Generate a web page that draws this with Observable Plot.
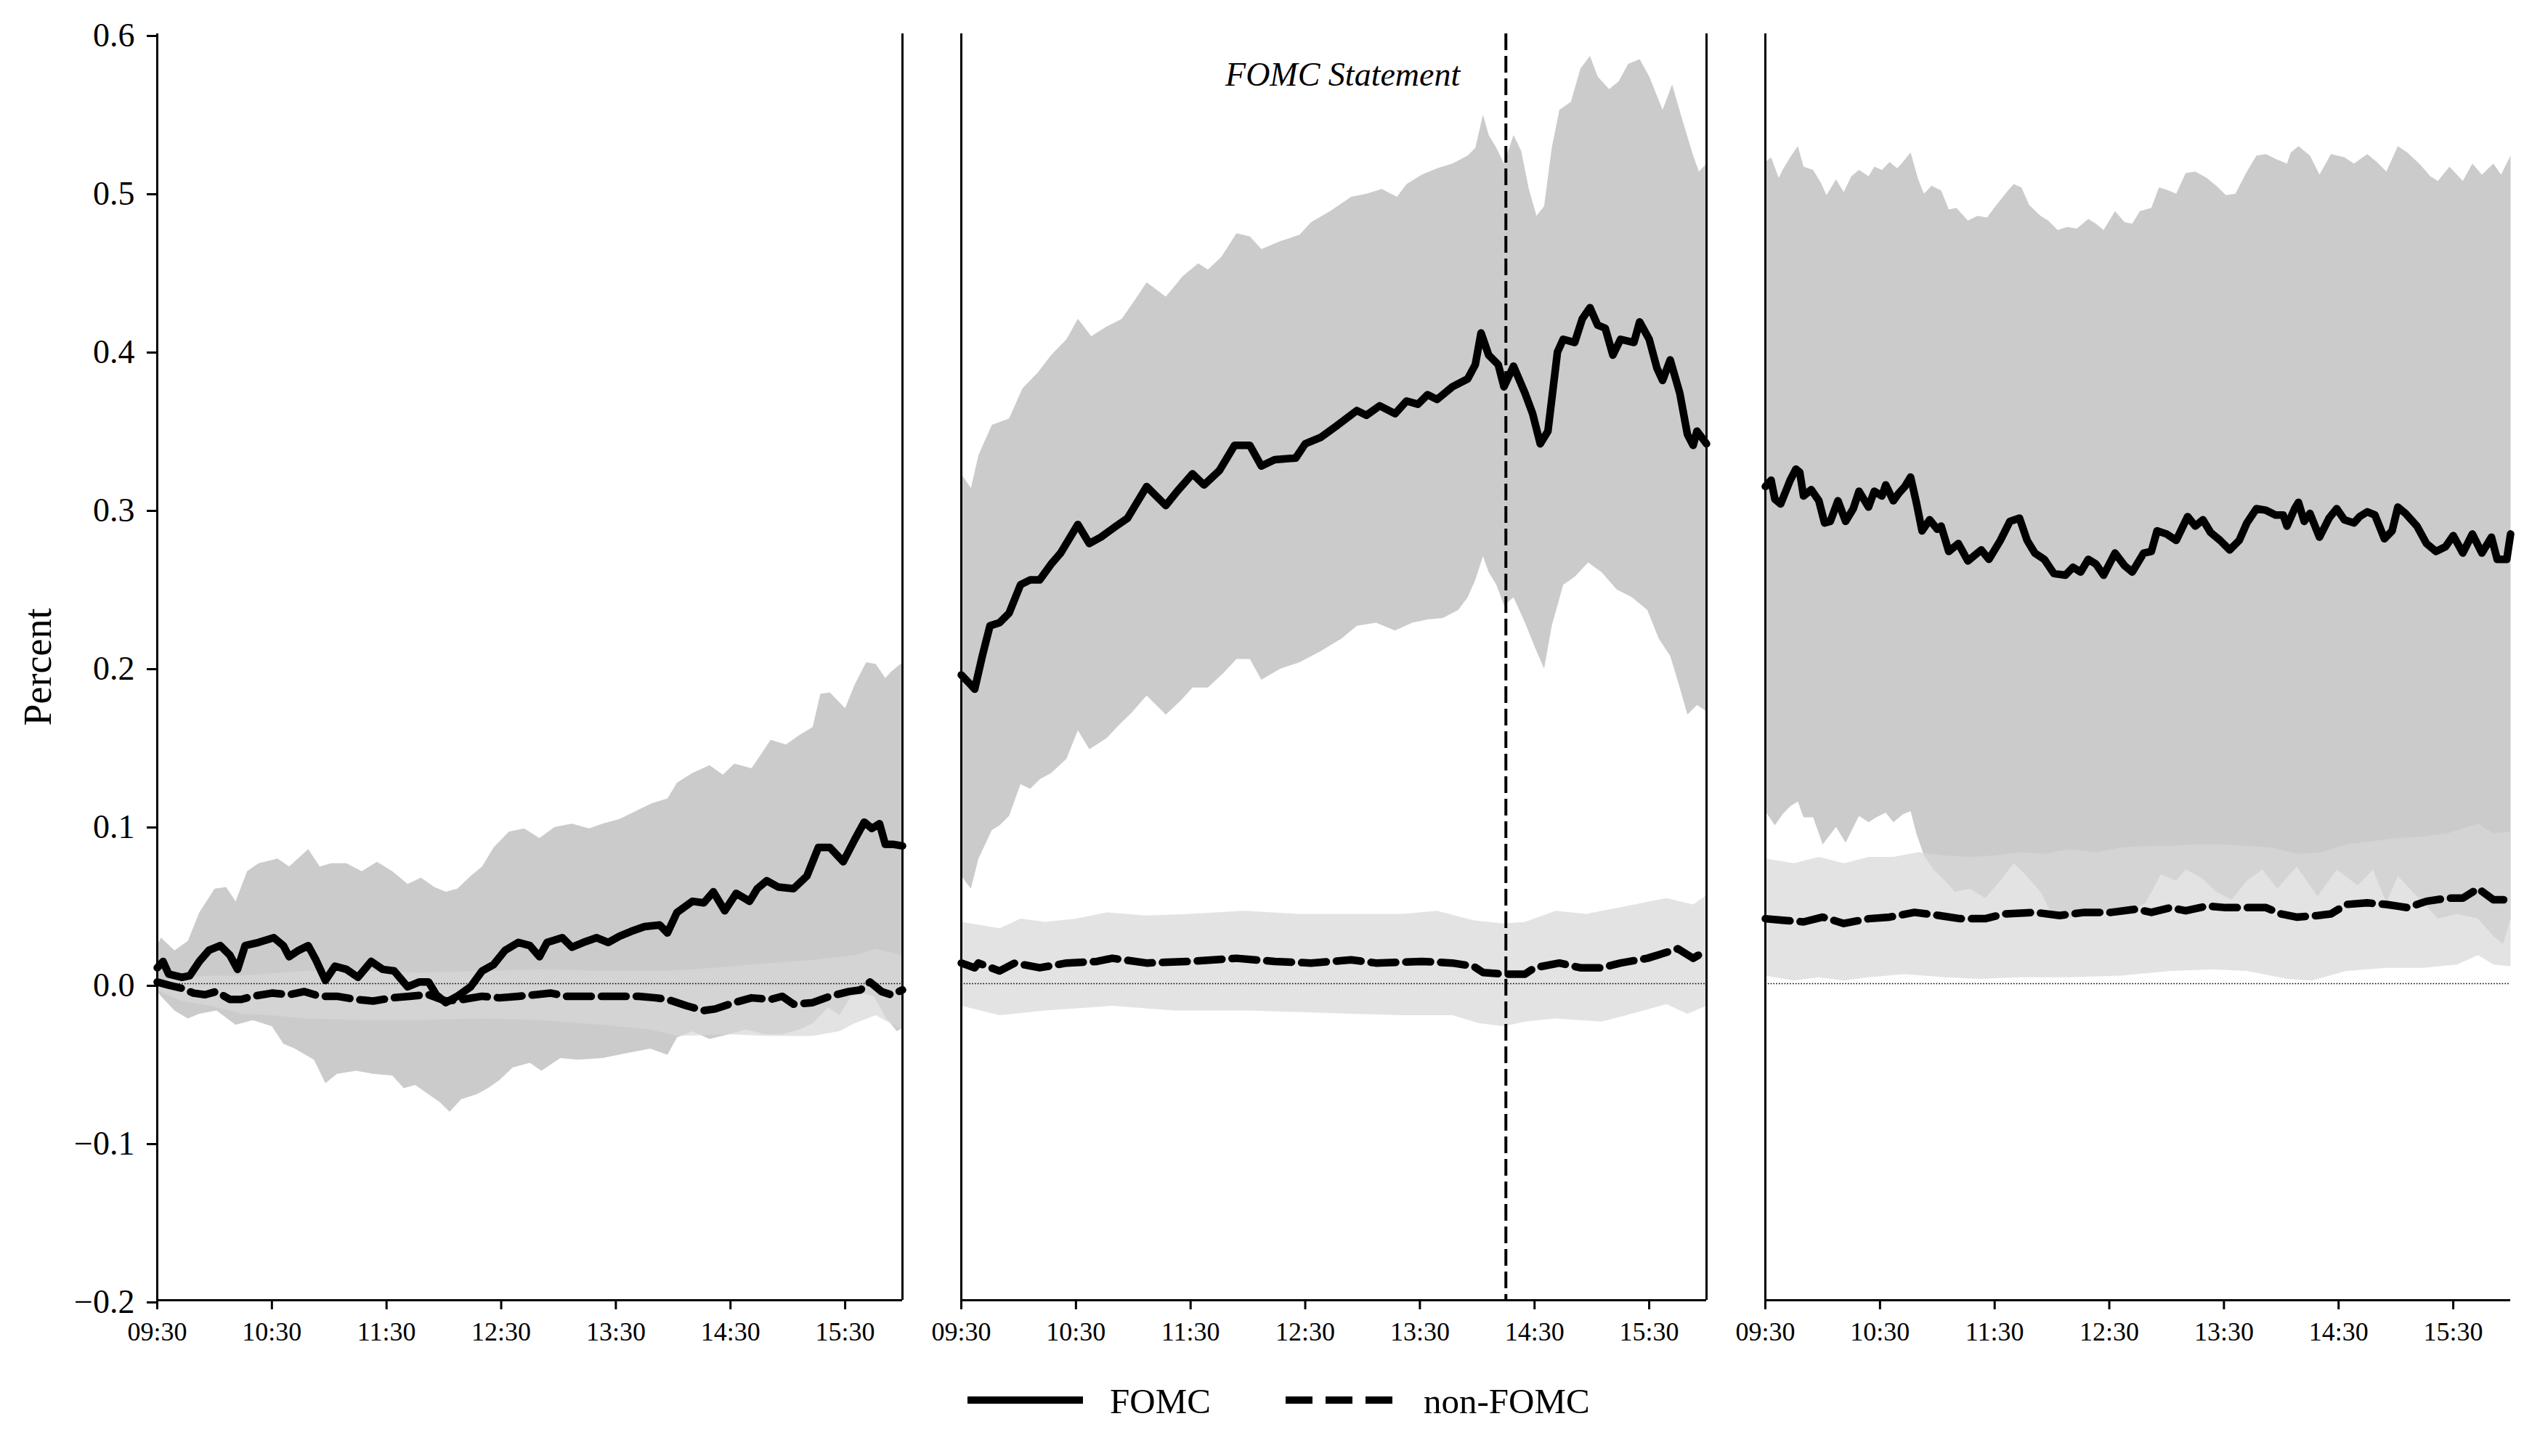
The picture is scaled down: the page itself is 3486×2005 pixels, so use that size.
<!DOCTYPE html>
<html><head><meta charset="utf-8">
<script src="https://cdn.jsdelivr.net/npm/d3@7"></script>
<script src="https://cdn.jsdelivr.net/npm/@observablehq/plot@0.6"></script>
<style>
html,body{margin:0;padding:0;background:#fff;}
#wrap{position:relative;width:3486px;height:2005px;font-family:"Liberation Serif","Times New Roman",serif;color:#000;}
#legend{position:absolute;left:0;top:1880px;width:3486px;height:125px;}
.lline{position:absolute;height:10px;background:#000;}
.ltext{position:absolute;font-size:49px;line-height:49px;white-space:nowrap;}
</style></head><body><div id="wrap"><div id="chart"></div>
<div id="legend">
  <div class="lline" style="left:1332px;top:43px;width:159px"></div>
  <div class="ltext" style="left:1528px;top:25px">FOMC</div>
  <div class="lline" style="left:1770px;top:43px;width:37px"></div>
  <div class="lline" style="left:1825px;top:43px;width:37px"></div>
  <div class="lline" style="left:1880px;top:43px;width:37px"></div>
  <div class="ltext" style="left:1960px;top:25px">non-FOMC</div>
</div></div>
<script>
// Panels: day before, FOMC day, day after
const panels = ["t-1", "t", "t+1"];
// x: minutes after 09:30
const xTickMinutes = [0, 60, 120, 180, 240, 300, 360];
const xTickLabels = ["09:30", "10:30", "11:30", "12:30", "13:30", "14:30", "15:30"];
const yTickValues = [-0.2, -0.1, 0, 0.1, 0.2, 0.3, 0.4, 0.5, 0.6];
const yTickLabels = ["\u22120.2", "\u22120.1", "0.0", "0.1", "0.2", "0.3", "0.4", "0.5", "0.6"];
const statementMinute = 285; // 14:15

// ---- Panel 1 ----
const p1FomcMean = [[0,0.010],[3,0.014],[6,0.006],[13,0.004],[17,0.005],[22,0.014],[27,0.021],[33,0.024],[38,0.018],[42,0.009],[46,0.024],[53,0.026],[61,0.029],[66,0.024],[69,0.017],[74,0.021],[79,0.024],[83,0.015],[88,0.002],[93,0.011],[99,0.009],[105,0.004],[112,0.014],[118,0.009],[124,0.008],[131,-0.002],[137,0.001],[142,0.001],[146,-0.007],[151,-0.012],[157,-0.008],[164,-0.002],[170,0.008],[176,0.012],[182,0.021],[189,0.026],[195,0.024],[200,0.017],[204,0.026],[212,0.029],[217,0.023],[223,0.026],[230,0.029],[236,0.026],[242,0.030],[248,0.033],[255,0.036],[263,0.037],[267,0.032],[272,0.045],[280,0.052],[286,0.051],[291,0.058],[297,0.046],[303,0.057],[310,0.052],[314,0.060],[319,0.065],[325,0.061],[333,0.060],[340,0.068],[346,0.086],[352,0.086],[359,0.077],[365,0.091],[370,0.102],[374,0.098],[378,0.101],[381,0.088],[385,0.088],[390,0.087]];
const p1FomcUpper = [[0,0.025],[2,0.029],[9,0.021],[16,0.027],[22,0.045],[30,0.060],[36,0.061],[41,0.052],[47,0.071],[53,0.076],[63,0.079],[69,0.074],[79,0.085],[85,0.074],[91,0.076],[99,0.076],[107,0.071],[115,0.077],[123,0.071],[131,0.063],[138,0.067],[145,0.061],[151,0.058],[157,0.060],[164,0.068],[170,0.074],[176,0.086],[184,0.096],[192,0.098],[200,0.092],[208,0.099],[217,0.101],[226,0.098],[233,0.101],[242,0.104],[252,0.110],[259,0.114],[267,0.117],[272,0.127],[280,0.133],[289,0.138],[296,0.132],[302,0.139],[311,0.136],[316,0.145],[321,0.154],[329,0.151],[336,0.157],[343,0.162],[347,0.183],[352,0.184],[360,0.174],[365,0.189],[371,0.203],[376,0.202],[381,0.193],[384,0.197],[390,0.203]];
const p1FomcLower = [[0,-0.005],[2,-0.008],[9,-0.017],[16,-0.022],[22,-0.019],[31,-0.017],[41,-0.026],[50,-0.023],[60,-0.027],[66,-0.038],[72,-0.041],[82,-0.048],[88,-0.063],[94,-0.057],[104,-0.055],[113,-0.057],[123,-0.058],[129,-0.066],[135,-0.064],[142,-0.070],[148,-0.075],[153,-0.081],[159,-0.073],[167,-0.070],[173,-0.066],[179,-0.061],[186,-0.053],[195,-0.050],[201,-0.055],[211,-0.047],[220,-0.048],[233,-0.047],[245,-0.044],[258,-0.041],[267,-0.045],[272,-0.034],[280,-0.030],[289,-0.035],[299,-0.032],[308,-0.029],[318,-0.032],[327,-0.032],[336,-0.029],[343,-0.025],[351,-0.015],[357,-0.020],[363,-0.008],[369,-0.006],[375,-0.008],[381,-0.021],[387,-0.030],[390,-0.028]];
const p1NonMean = [[0,0.001],[6,-0.001],[13,-0.003],[19,-0.006],[25,-0.007],[31,-0.005],[38,-0.010],[44,-0.010],[50,-0.008],[60,-0.006],[69,-0.007],[77,-0.005],[85,-0.008],[94,-0.008],[104,-0.010],[113,-0.011],[123,-0.009],[132,-0.008],[142,-0.007],[151,-0.011],[160,-0.010],[170,-0.008],[179,-0.009],[189,-0.008],[198,-0.007],[206,-0.006],[214,-0.008],[223,-0.008],[233,-0.008],[242,-0.008],[252,-0.008],[261,-0.009],[267,-0.010],[277,-0.014],[286,-0.017],[292,-0.016],[302,-0.012],[311,-0.009],[321,-0.010],[327,-0.008],[333,-0.013],[343,-0.012],[352,-0.008],[362,-0.005],[368,-0.004],[373,0.001],[379,-0.005],[384,-0.007],[390,-0.004]];
const p1NonUpper = [[0,0.002],[13,0.004],[28,0.005],[44,0.005],[76,0.008],[107,0.008],[138,0.007],[170,0.008],[201,0.009],[233,0.008],[264,0.008],[280,0.009],[311,0.012],[343,0.015],[365,0.018],[376,0.022],[390,0.018]];
const p1NonLower = [[0,-0.004],[13,-0.011],[28,-0.014],[44,-0.019],[60,-0.020],[76,-0.022],[107,-0.023],[138,-0.023],[170,-0.022],[201,-0.023],[233,-0.026],[258,-0.029],[272,-0.033],[300,-0.032],[320,-0.033],[343,-0.033],[357,-0.030],[365,-0.025],[376,-0.020],[382,-0.024],[390,-0.029]];

// ---- Panel 2 (FOMC day) ----
const p2FomcMean = [[0,0.195],[4,0.190],[7,0.186],[11,0.207],[15,0.226],[20,0.228],[25,0.234],[31,0.252],[36,0.255],[41,0.255],[47,0.265],[52,0.272],[61,0.290],[67,0.278],[73,0.282],[81,0.289],[87,0.294],[91,0.302],[97,0.314],[107,0.302],[113,0.311],[121,0.322],[127,0.315],[135,0.324],[143,0.340],[151,0.340],[157,0.327],[164,0.331],[175,0.332],[180,0.341],[188,0.345],[196,0.352],[207,0.362],[212,0.359],[219,0.365],[227,0.360],[233,0.368],[239,0.366],[244,0.372],[249,0.369],[257,0.377],[265,0.382],[269,0.391],[272,0.411],[276,0.397],[281,0.391],[284,0.377],[289,0.390],[295,0.373],[299,0.360],[303,0.341],[307,0.349],[312,0.399],[315,0.407],[321,0.405],[325,0.420],[329,0.427],[333,0.416],[337,0.414],[341,0.397],[345,0.407],[352,0.405],[355,0.418],[360,0.407],[364,0.389],[367,0.381],[371,0.394],[376,0.373],[380,0.347],[383,0.340],[385,0.349],[390,0.341]];
const p2FomcUpper = [[0,0.322],[5,0.313],[9,0.334],[16,0.353],[25,0.357],[32,0.376],[40,0.386],[47,0.397],[55,0.407],[61,0.420],[68,0.409],[76,0.415],[84,0.420],[92,0.434],[97,0.443],[107,0.434],[116,0.447],[124,0.455],[129,0.451],[136,0.459],[144,0.474],[151,0.472],[157,0.464],[167,0.469],[177,0.473],[183,0.481],[193,0.488],[204,0.497],[212,0.499],[220,0.502],[228,0.497],[233,0.505],[241,0.511],[249,0.515],[257,0.518],[265,0.523],[269,0.528],[273,0.549],[276,0.536],[280,0.528],[284,0.518],[289,0.536],[293,0.526],[297,0.502],[301,0.485],[305,0.491],[309,0.528],[313,0.552],[319,0.557],[324,0.578],[329,0.586],[333,0.573],[339,0.565],[344,0.570],[349,0.581],[355,0.584],[360,0.573],[367,0.552],[372,0.568],[377,0.547],[383,0.523],[386,0.513],[390,0.518]];
const p2FomcLower = [[0,0.068],[5,0.060],[9,0.079],[16,0.097],[20,0.100],[25,0.106],[31,0.126],[36,0.123],[41,0.129],[47,0.133],[55,0.142],[61,0.160],[67,0.148],[76,0.155],[83,0.164],[89,0.171],[97,0.182],[107,0.170],[115,0.179],[121,0.187],[129,0.187],[137,0.196],[144,0.205],[151,0.205],[157,0.192],[167,0.199],[177,0.203],[188,0.210],[199,0.218],[207,0.226],[217,0.228],[227,0.223],[236,0.228],[244,0.230],[252,0.231],[260,0.236],[265,0.244],[269,0.255],[273,0.270],[276,0.260],[280,0.252],[284,0.239],[289,0.244],[295,0.228],[300,0.213],[305,0.199],[309,0.226],[315,0.252],[321,0.257],[328,0.266],[335,0.260],[343,0.249],[351,0.244],[359,0.236],[365,0.218],[371,0.207],[375,0.191],[380,0.170],[385,0.176],[390,0.172]];
const p2NonMean = [[0,0.013],[7,0.010],[9,0.013],[20,0.008],[28,0.013],[41,0.010],[55,0.013],[71,0.014],[79,0.016],[97,0.013],[119,0.014],[144,0.016],[164,0.014],[183,0.013],[204,0.015],[217,0.013],[241,0.014],[257,0.013],[268,0.011],[273,0.007],[284,0.006],[295,0.006],[300,0.010],[313,0.013],[324,0.010],[335,0.010],[345,0.013],[359,0.016],[375,0.022],[383,0.016],[390,0.021]];
const p2NonUpper = [[0,0.039],[20,0.035],[31,0.041],[44,0.039],[60,0.041],[76,0.045],[97,0.043],[119,0.044],[148,0.046],[177,0.044],[204,0.044],[231,0.044],[249,0.046],[268,0.040],[284,0.038],[295,0.039],[311,0.046],[327,0.044],[348,0.049],[369,0.054],[383,0.050],[390,0.056]];
const p2NonLower = [[0,-0.014],[20,-0.020],[44,-0.017],[79,-0.014],[111,-0.017],[151,-0.017],[204,-0.019],[231,-0.020],[257,-0.020],[271,-0.025],[284,-0.027],[295,-0.024],[311,-0.022],[335,-0.024],[348,-0.020],[369,-0.013],[380,-0.019],[390,-0.014]];

// ---- Panel 3 ----
const p3FomcMean = [[0,0.314],[3,0.318],[5,0.306],[8,0.303],[11,0.312],[13,0.318],[16,0.325],[18,0.323],[20,0.308],[24,0.312],[28,0.305],[31,0.291],[34,0.292],[38,0.305],[42,0.292],[46,0.300],[49,0.311],[54,0.301],[57,0.311],[61,0.308],[63,0.315],[67,0.305],[70,0.310],[73,0.314],[76,0.320],[79,0.304],[82,0.286],[86,0.293],[90,0.287],[92,0.289],[96,0.273],[101,0.278],[106,0.267],[111,0.272],[113,0.274],[117,0.268],[123,0.280],[128,0.292],[133,0.294],[137,0.280],[141,0.272],[146,0.268],[151,0.259],[157,0.258],[161,0.263],[165,0.260],[169,0.268],[173,0.265],[177,0.258],[183,0.272],[188,0.264],[192,0.260],[198,0.272],[202,0.273],[205,0.286],[210,0.284],[215,0.280],[221,0.295],[225,0.289],[229,0.293],[233,0.285],[238,0.280],[243,0.274],[248,0.280],[252,0.291],[257,0.300],[262,0.299],[267,0.296],[271,0.296],[273,0.289],[277,0.300],[279,0.304],[282,0.292],[285,0.297],[290,0.282],[295,0.294],[299,0.300],[303,0.293],[308,0.291],[311,0.295],[315,0.298],[319,0.296],[324,0.281],[328,0.286],[331,0.301],[335,0.297],[341,0.289],[346,0.278],[351,0.273],[356,0.276],[360,0.283],[365,0.272],[370,0.284],[375,0.272],[380,0.282],[383,0.268],[388,0.268],[390,0.284]];
const p3FomcUpper = [[0,0.519],[3,0.522],[7,0.509],[9,0.514],[13,0.522],[17,0.529],[20,0.516],[25,0.514],[29,0.506],[32,0.498],[37,0.508],[41,0.500],[45,0.510],[49,0.514],[54,0.510],[57,0.516],[61,0.514],[65,0.519],[69,0.515],[72,0.519],[76,0.525],[80,0.508],[83,0.499],[87,0.504],[92,0.501],[96,0.489],[100,0.490],[106,0.482],[111,0.485],[116,0.484],[121,0.492],[127,0.501],[130,0.505],[134,0.503],[138,0.492],[144,0.485],[148,0.482],[153,0.476],[158,0.478],[163,0.477],[169,0.483],[173,0.480],[177,0.476],[183,0.488],[188,0.481],[192,0.480],[196,0.488],[202,0.490],[206,0.503],[211,0.501],[215,0.499],[220,0.512],[225,0.513],[231,0.509],[236,0.504],[241,0.498],[246,0.499],[252,0.513],[257,0.523],[262,0.524],[267,0.521],[273,0.518],[275,0.525],[279,0.529],[285,0.523],[290,0.511],[296,0.524],[303,0.522],[308,0.518],[315,0.524],[320,0.519],[325,0.513],[331,0.529],[336,0.525],[343,0.517],[348,0.510],[352,0.507],[358,0.516],[365,0.507],[370,0.518],[375,0.511],[381,0.518],[385,0.511],[390,0.523]];
const p3FomcLower = [[0,0.109],[5,0.100],[9,0.107],[13,0.112],[17,0.115],[20,0.105],[25,0.105],[30,0.088],[37,0.099],[42,0.089],[49,0.106],[54,0.102],[58,0.105],[63,0.108],[67,0.102],[72,0.107],[76,0.109],[79,0.095],[83,0.081],[88,0.072],[94,0.065],[99,0.058],[107,0.060],[115,0.054],[123,0.065],[130,0.076],[136,0.069],[144,0.058],[149,0.046],[157,0.041],[167,0.044],[178,0.046],[188,0.044],[199,0.051],[207,0.069],[215,0.065],[220,0.072],[228,0.067],[236,0.058],[244,0.053],[252,0.065],[260,0.072],[268,0.060],[278,0.074],[289,0.055],[299,0.072],[310,0.062],[318,0.072],[325,0.051],[331,0.068],[341,0.055],[352,0.041],[362,0.044],[373,0.041],[381,0.030],[386,0.025],[390,0.041]];
const p3NonMean = [[0,0.041],[9,0.040],[20,0.039],[30,0.042],[41,0.038],[54,0.041],[65,0.042],[78,0.045],[91,0.043],[102,0.041],[115,0.041],[125,0.044],[141,0.045],[154,0.043],[167,0.045],[181,0.045],[194,0.047],[202,0.045],[212,0.048],[220,0.046],[231,0.049],[241,0.048],[252,0.048],[262,0.048],[270,0.044],[278,0.042],[289,0.043],[296,0.044],[304,0.050],[315,0.051],[325,0.050],[336,0.048],[346,0.052],[357,0.054],[365,0.054],[373,0.060],[381,0.053],[390,0.053]];
const p3NonUpper = [[0,0.079],[15,0.076],[28,0.080],[41,0.076],[54,0.080],[67,0.080],[80,0.083],[94,0.081],[107,0.080],[120,0.081],[133,0.083],[146,0.082],[159,0.085],[173,0.083],[186,0.086],[199,0.087],[212,0.087],[225,0.088],[238,0.088],[252,0.087],[265,0.086],[278,0.082],[291,0.083],[304,0.088],[318,0.090],[331,0.092],[344,0.093],[357,0.095],[365,0.098],[373,0.101],[381,0.095],[390,0.096]];
const p3NonLower = [[0,0.005],[15,0.002],[28,0.004],[41,0.002],[54,0.004],[73,0.006],[94,0.004],[112,0.003],[133,0.004],[159,0.004],[186,0.005],[212,0.008],[233,0.009],[252,0.008],[273,0.003],[286,0.002],[304,0.008],[325,0.010],[344,0.010],[362,0.012],[373,0.018],[381,0.012],[390,0.011]];

// ---- assemble tables for Plot ----
const toRows = (arr, panel) => arr.map(([m, v]) => ({panel, m, v}));
const band = (upper, lower, panel) => [...toRows(upper, panel), ...toRows(lower.slice().reverse(), panel)];

const fomcBands = [
  ...band(p1FomcUpper, p1FomcLower, panels[0]),
  ...band(p2FomcUpper, p2FomcLower, panels[1]),
  ...band(p3FomcUpper, p3FomcLower, panels[2])
];
const nonBands = [
  ...band(p1NonUpper, p1NonLower, panels[0]),
  ...band(p2NonUpper, p2NonLower, panels[1]),
  ...band(p3NonUpper, p3NonLower, panels[2])
];
const fomcMean = [...toRows(p1FomcMean, panels[0]), ...toRows(p2FomcMean, panels[1]), ...toRows(p3FomcMean, panels[2])];
const nonMean = [...toRows(p1NonMean, panels[0]), ...toRows(p2NonMean, panels[1]), ...toRows(p3NonMean, panels[2])];
const statementRule = [{panel: panels[1], m: statementMinute}];
const statementLabel = [{panel: panels[1], m: statementMinute, v: 0.567, label: "FOMC Statement"}];
const rightSpines = [{panel: panels[0], m: 390}, {panel: panels[1], m: 390}];
const yLabel = [{panel: panels[0], label: "Percent"}];

const chart = Plot.plot({
  width: 3486,
  height: 1880,
  marginLeft: 216,
  marginRight: 30,
  marginTop: 46,
  marginBottom: 90,
  style: {fontFamily: "Liberation Serif, Times New Roman, serif", background: "white", color: "black"},
  fx: {domain: panels, paddingInner: 0.0732, paddingOuter: 0, axis: null, label: null},
  x: {domain: [0, 390], axis: null},
  y: {domain: [-0.2, 0.6], axis: null},
  marks: [
    Plot.line(fomcBands, {x: "m", y: "v", fx: "panel", z: "panel", fill: "#cbcbcb", stroke: "none"}),
    Plot.line(nonBands, {x: "m", y: "v", fx: "panel", z: "panel", fill: "#d8d8d8", fillOpacity: 0.71, stroke: "none"}),
    Plot.ruleY([0], {stroke: "#000", strokeWidth: 1.6, strokeDasharray: "1.6,2.2"}),
    Plot.ruleX(statementRule, {x: "m", fx: "panel", stroke: "#000", strokeWidth: 4, strokeDasharray: "23,8"}),
    Plot.line(fomcMean, {x: "m", y: "v", fx: "panel", z: "panel", stroke: "#000", strokeWidth: 10.5, strokeLinejoin: "round", strokeLinecap: "round"}),
    Plot.line(nonMean, {x: "m", y: "v", fx: "panel", z: "panel", stroke: "#000", strokeWidth: 10.5, strokeLinejoin: "round", strokeLinecap: "round", strokeDasharray: "34,14"}),
    Plot.ruleX([0], {stroke: "#000", strokeWidth: 3}),
    Plot.ruleX(rightSpines, {x: "m", fx: "panel", stroke: "#000", strokeWidth: 3}),
    Plot.ruleY([-0.2], {stroke: "#000", strokeWidth: 3}),
    Plot.axisX({ticks: xTickMinutes, tickFormat: d => xTickLabels[xTickMinutes.indexOf(d)], tickSize: 13, tickPadding: 17, fontSize: 36, strokeWidth: 3, label: null}),
    Plot.axisY({ticks: yTickValues, tickFormat: d => yTickLabels[yTickValues.indexOf(d)], tickSize: 14, tickPadding: 17, fontSize: 46, strokeWidth: 3, label: null, dy: 3}),
    Plot.text(yLabel, {fx: "panel", text: "label", frameAnchor: "left", textAnchor: "middle", rotate: -90, dx: -147, lineAnchor: "bottom", fontSize: 54}),
    Plot.text(statementLabel, {x: "m", y: "v", fx: "panel", text: "label", textAnchor: "end", dx: -63, lineAnchor: "bottom", fontSize: 46, fontStyle: "italic"})
  ]
});
document.getElementById("chart").appendChild(chart);
</script></body></html>
